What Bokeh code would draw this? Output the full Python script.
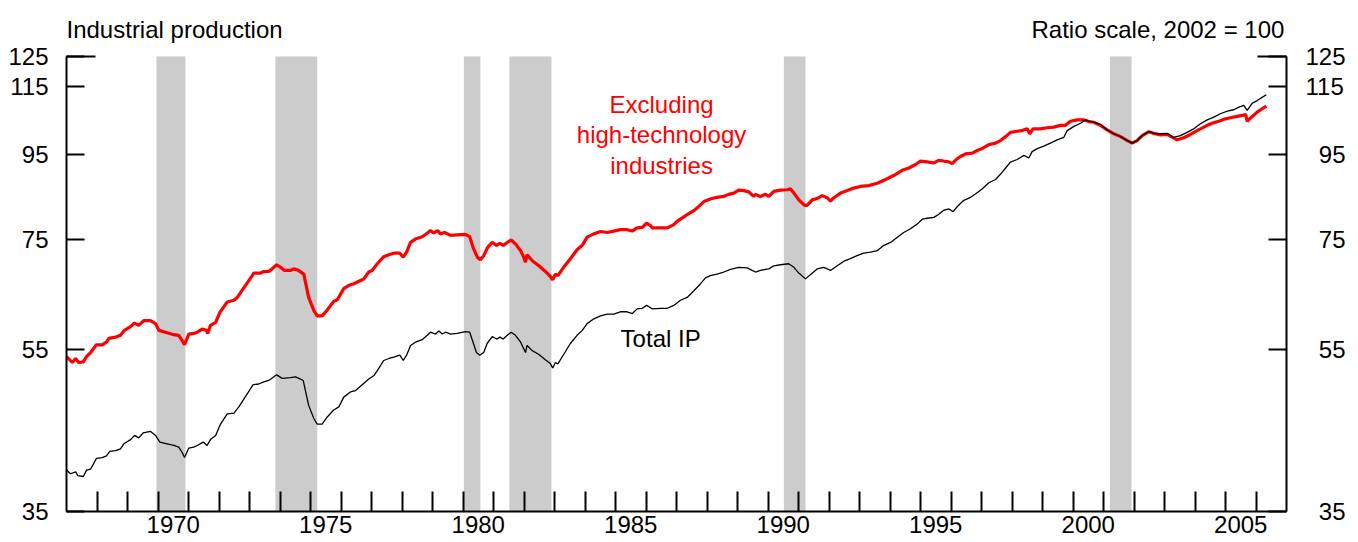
from bokeh.plotting import figure
from bokeh.models import (LogAxis, LinearAxis, FixedTicker, BasicTickFormatter,
                          CustomJSTickFormatter, BoxAnnotation, Label, Range1d)
from bokeh.embed import file_html
from bokeh.resources import INLINE

FONT = "Liberation Sans"
FS = "24px"

# ---------------- data ----------------
red_year = [
    1967.00, 1967.19, 1967.30, 1967.40, 1967.55, 1967.66, 1967.79, 1967.98, 1968.17, 1968.31,
    1968.39, 1968.61, 1968.77, 1968.90, 1969.10, 1969.23, 1969.37, 1969.53, 1969.75, 1969.92,
    1970.03, 1970.30, 1970.52, 1970.68, 1970.79, 1970.87, 1971.01, 1971.17, 1971.29, 1971.45,
    1971.59, 1971.63, 1971.72, 1971.89, 1972.03, 1972.27, 1972.49, 1972.60, 1972.87, 1973.09,
    1973.14, 1973.36, 1973.47, 1973.63, 1973.74, 1973.89, 1974.02, 1974.15, 1974.34, 1974.45,
    1974.58, 1974.78, 1974.94, 1975.11, 1975.22, 1975.38, 1975.55, 1975.76, 1975.88, 1976.09,
    1976.26, 1976.42, 1976.64, 1976.75, 1976.91, 1977.02, 1977.19, 1977.40, 1977.57, 1977.73,
    1977.93, 1978.04, 1978.15, 1978.28, 1978.44, 1978.66, 1978.80, 1978.93, 1979.04, 1979.17,
    1979.26, 1979.39, 1979.59, 1979.81, 1980.08, 1980.22, 1980.33, 1980.47, 1980.57, 1980.68,
    1980.81, 1980.96, 1981.10, 1981.21, 1981.32, 1981.45, 1981.58, 1981.72, 1981.89, 1981.97,
    1982.05, 1982.10, 1982.27, 1982.49, 1982.70, 1982.87, 1982.94, 1983.03, 1983.11, 1983.30,
    1983.52, 1983.74, 1983.91, 1984.07, 1984.29, 1984.51, 1984.73, 1984.94, 1985.16, 1985.38,
    1985.55, 1985.71, 1985.88, 1986.02, 1986.15, 1986.20, 1986.42, 1986.70, 1986.91, 1987.02,
    1987.13, 1987.35, 1987.57, 1987.73, 1987.90, 1988.11, 1988.33, 1988.55, 1988.71, 1988.88,
    1989.04, 1989.21, 1989.37, 1989.53, 1989.59, 1989.75, 1989.92, 1990.03, 1990.19, 1990.41,
    1990.63, 1990.74, 1990.85, 1991.01, 1991.20, 1991.28, 1991.45, 1991.61, 1991.78, 1991.94,
    1992.05, 1992.16, 1992.38, 1992.60, 1992.81, 1993.03, 1993.30, 1993.58, 1993.91, 1994.12,
    1994.40, 1994.62, 1994.84, 1995.00, 1995.22, 1995.44, 1995.60, 1995.76, 1995.93, 1996.04,
    1996.20, 1996.31, 1996.48, 1996.70, 1996.86, 1997.02, 1997.24, 1997.46, 1997.62, 1997.79,
    1997.95, 1998.17, 1998.33, 1998.50, 1998.58, 1998.69, 1998.93, 1999.15, 1999.37, 1999.59,
    1999.75, 1999.92, 2000.14, 2000.35, 2000.52, 2000.68, 2000.90, 2001.12, 2001.34, 2001.56,
    2001.78, 2001.94, 2002.10, 2002.27, 2002.49, 2002.65, 2002.87, 2003.09, 2003.26, 2003.42,
    2003.63, 2003.85, 2004.07, 2004.29, 2004.40, 2004.56, 2004.78, 2005.00, 2005.16, 2005.38,
    2005.55, 2005.66, 2005.71, 2005.88, 2006.04, 2006.20, 2006.34,
]
red_value = [
    54.0, 53.1, 53.7, 53.1, 53.2, 54.0, 54.6, 55.8, 55.8, 56.2,
    56.8, 57.0, 57.3, 58.1, 58.7, 59.3, 58.9, 59.7, 59.7, 59.2,
    58.1, 57.7, 57.4, 57.3, 56.5, 55.8, 57.5, 57.6, 57.8, 58.3,
    58.1, 57.6, 58.9, 59.4, 61.1, 62.9, 63.2, 63.7, 65.9, 67.7,
    68.2, 68.2, 68.5, 68.5, 69.0, 69.8, 69.3, 68.7, 68.7, 69.0,
    68.8, 68.0, 63.7, 61.4, 60.5, 60.5, 61.5, 63.0, 63.3, 65.3,
    65.9, 66.2, 66.8, 67.1, 68.4, 68.7, 70.0, 71.4, 71.8, 72.1,
    72.1, 71.3, 72.3, 74.3, 75.0, 75.5, 76.1, 76.8, 76.3, 76.8,
    76.1, 76.4, 75.8, 75.9, 76.0, 75.5, 73.3, 71.3, 70.8, 71.6,
    73.3, 74.3, 73.7, 74.1, 73.7, 74.3, 74.8, 74.0, 72.6, 71.6,
    70.3, 71.8, 70.6, 69.6, 68.5, 67.5, 66.9, 68.0, 67.7, 69.3,
    71.0, 72.8, 73.7, 75.4, 76.1, 76.6, 76.4, 76.7, 77.0, 77.0,
    76.7, 77.4, 77.5, 78.4, 77.9, 77.4, 77.4, 77.4, 78.1, 78.8,
    79.3, 80.3, 81.2, 82.2, 83.3, 83.9, 84.3, 84.5, 85.0, 85.3,
    86.0, 85.9, 85.6, 84.5, 85.0, 84.5, 85.0, 84.5, 85.7, 86.0,
    86.1, 86.3, 85.3, 83.7, 82.4, 82.4, 83.7, 84.0, 84.7, 84.2,
    83.4, 84.2, 85.3, 85.9, 86.5, 86.9, 87.1, 87.7, 88.8, 89.6,
    90.9, 91.5, 92.4, 93.3, 93.1, 92.8, 93.5, 93.3, 93.1, 92.6,
    93.9, 94.5, 95.2, 95.4, 96.1, 96.6, 97.7, 98.1, 98.8, 99.9,
    101.1, 101.4, 101.6, 102.1, 100.7, 102.1, 102.1, 102.4, 102.6, 103.1,
    103.1, 104.3, 104.7, 104.7, 104.2, 104.0, 103.1, 101.8, 100.7, 99.9,
    98.8, 98.1, 98.8, 100.2, 101.3, 100.8, 100.4, 100.5, 99.7, 99.0,
    99.6, 100.5, 101.6, 102.6, 103.1, 103.7, 104.3, 105.0, 105.3, 105.7,
    106.0, 106.3, 104.3, 105.7, 107.0, 108.0, 108.8,
]

total_year = [
    1967.00, 1967.13, 1967.30, 1967.37, 1967.55, 1967.66, 1967.79, 1967.98, 1968.17, 1968.31,
    1968.42, 1968.61, 1968.77, 1968.88, 1969.10, 1969.23, 1969.37, 1969.51, 1969.75, 1969.92,
    1970.06, 1970.30, 1970.52, 1970.68, 1970.79, 1970.87, 1971.01, 1971.17, 1971.29, 1971.48,
    1971.61, 1971.72, 1971.89, 1972.05, 1972.27, 1972.49, 1972.65, 1972.92, 1973.12, 1973.30,
    1973.47, 1973.63, 1973.89, 1974.07, 1974.34, 1974.51, 1974.67, 1974.76, 1974.94, 1975.11,
    1975.22, 1975.38, 1975.55, 1975.76, 1975.93, 1976.09, 1976.31, 1976.48, 1976.64, 1976.91,
    1977.08, 1977.19, 1977.40, 1977.57, 1977.73, 1977.93, 1978.04, 1978.15, 1978.28, 1978.44,
    1978.66, 1978.83, 1978.93, 1979.10, 1979.21, 1979.32, 1979.43, 1979.59, 1979.81, 1980.08,
    1980.22, 1980.33, 1980.44, 1980.55, 1980.68, 1980.79, 1980.96, 1981.10, 1981.21, 1981.32,
    1981.45, 1981.58, 1981.72, 1981.89, 1981.97, 1982.05, 1982.10, 1982.27, 1982.49, 1982.70,
    1982.87, 1982.94, 1983.03, 1983.11, 1983.30, 1983.52, 1983.74, 1983.91, 1984.07, 1984.29,
    1984.51, 1984.73, 1984.94, 1985.16, 1985.38, 1985.55, 1985.71, 1985.88, 1986.02, 1986.15,
    1986.20, 1986.48, 1986.70, 1986.91, 1987.13, 1987.35, 1987.57, 1987.79, 1987.95, 1988.11,
    1988.33, 1988.55, 1988.77, 1989.04, 1989.32, 1989.48, 1989.59, 1989.75, 1989.92, 1990.03,
    1990.19, 1990.41, 1990.68, 1990.85, 1991.01, 1991.23, 1991.39, 1991.61, 1991.83, 1992.05,
    1992.27, 1992.49, 1992.70, 1992.92, 1993.14, 1993.36, 1993.58, 1993.80, 1994.02, 1994.24,
    1994.45, 1994.67, 1994.89, 1995.06, 1995.22, 1995.44, 1995.60, 1995.76, 1995.93, 1996.07,
    1996.20, 1996.42, 1996.64, 1996.80, 1997.02, 1997.24, 1997.46, 1997.62, 1997.79, 1997.95,
    1998.17, 1998.39, 1998.55, 1998.66, 1998.83, 1999.04, 1999.26, 1999.48, 1999.70, 1999.81,
    2000.03, 2000.25, 2000.41, 2000.52, 2000.68, 2000.90, 2001.12, 2001.34, 2001.56, 2001.78,
    2001.94, 2002.10, 2002.27, 2002.49, 2002.65, 2002.87, 2003.09, 2003.30, 2003.52, 2003.74,
    2003.96, 2004.17, 2004.40, 2004.62, 2004.83, 2005.06, 2005.27, 2005.44, 2005.60, 2005.71,
    2005.88, 2006.04, 2006.20, 2006.34,
]
total_value = [
    39.3, 38.9, 39.1, 38.7, 38.6, 39.3, 39.4, 40.6, 40.7, 40.9,
    41.4, 41.5, 41.7, 42.3, 42.8, 43.3, 43.0, 43.6, 43.8, 43.3,
    42.5, 42.3, 42.1, 41.9, 41.3, 40.7, 41.8, 41.9, 42.1, 42.5,
    42.1, 42.8, 43.3, 44.7, 46.0, 46.1, 46.9, 48.6, 49.9, 50.0,
    50.3, 50.5, 51.3, 50.8, 50.9, 51.0, 50.7, 50.5, 47.1, 45.4,
    44.7, 44.7, 45.6, 46.5, 46.9, 48.2, 48.9, 49.1, 49.7, 50.7,
    51.2, 51.9, 53.4, 53.7, 53.9, 54.2, 53.4, 54.2, 55.7, 56.2,
    56.6, 57.3, 57.8, 57.5, 58.0, 57.5, 57.8, 57.5, 57.6, 57.9,
    57.8, 56.2, 54.6, 54.2, 54.6, 56.0, 57.1, 56.7, 57.0, 56.7,
    57.3, 57.8, 57.3, 56.2, 55.4, 54.6, 55.7, 54.9, 54.3, 53.5,
    52.9, 52.3, 53.1, 52.9, 54.3, 56.0, 57.3, 58.1, 59.2, 60.0,
    60.5, 60.8, 60.8, 61.2, 61.2, 60.9, 61.7, 61.8, 62.3, 61.9,
    61.7, 61.8, 61.8, 62.3, 63.2, 63.7, 64.9, 66.2, 67.3, 67.7,
    68.0, 68.4, 68.9, 69.3, 69.2, 68.7, 68.4, 68.7, 68.9, 69.0,
    69.6, 69.8, 70.0, 69.3, 68.2, 67.1, 67.9, 69.0, 69.3, 68.7,
    69.6, 70.5, 71.0, 71.6, 72.1, 72.3, 72.6, 73.7, 74.3, 75.4,
    76.4, 77.2, 78.2, 79.3, 79.5, 79.7, 80.4, 81.3, 81.6, 81.0,
    82.1, 83.6, 84.3, 85.1, 86.3, 87.8, 88.6, 89.9, 91.5, 93.0,
    93.7, 94.8, 94.1, 95.8, 96.6, 97.3, 98.1, 99.0, 99.7, 101.6,
    102.8, 103.7, 104.7, 104.3, 104.0, 103.4, 101.8, 100.7, 99.9, 98.8,
    98.1, 98.8, 100.2, 101.3, 100.8, 100.7, 100.8, 99.7, 100.2, 101.1,
    102.1, 103.5, 104.7, 105.5, 106.5, 107.3, 107.7, 108.5, 109.0, 107.5,
    109.7, 110.5, 111.5, 112.3,
]

recession_start = [1969.95, 1973.85, 1980.03, 1981.52, 1990.52, 2001.21]
recession_end = [1970.90, 1975.22, 1980.57, 1982.90, 1991.23, 2001.92]

y_ticks = [35, 55, 75, 95, 115, 125]
x_label_years = [1970, 1975, 1980, 1985, 1990, 1995, 2000, 2005]
x_boundary_years = list(range(1968, 2007))

assert len(red_year) == len(red_value)
assert len(total_year) == len(total_value)

Y_MIN, Y_MAX = 35, 125          # axis extent
Y_TOP = 146.2                   # frame top, leaves room for the header texts

# ---------------- figure ----------------
p = figure(width=1350, height=542,
           x_range=Range1d(1967, 2007), y_range=Range1d(Y_MIN, Y_TOP),
           y_axis_type="log", x_axis_location=None, y_axis_location=None,
           output_backend="svg", toolbar_location=None,
           min_border_left=66, min_border_right=64,
           min_border_top=0, min_border_bottom=31)
p.title.visible = False
p.outline_line_color = None
p.background_fill_color = "white"
p.border_fill_color = "white"
for g in p.grid:
    g.visible = False

# recession shading
for s, e in zip(recession_start, recession_end):
    p.add_layout(BoxAnnotation(left=s, right=e, bottom=Y_MIN, top=Y_MAX,
                               fill_color="#cccccc", fill_alpha=1.0,
                               line_color=None, level="underlay"))

# series
p.line(red_year, red_value, line_color="#ff0000", line_width=3.2)
p.line(total_year, total_value, line_color="black", line_width=1.3)


def style_y(ax):
    ax.bounds = (Y_MIN, Y_MAX)
    ax.ticker = FixedTicker(ticks=y_ticks, minor_ticks=[Y_MAX])
    ax.axis_line_width = 2
    ax.axis_line_color = "black"
    ax.major_tick_in = 18
    ax.major_tick_out = 0
    ax.major_tick_line_width = 2
    ax.minor_tick_in = 29
    ax.minor_tick_out = 0
    ax.minor_tick_line_width = 2
    ax.major_label_text_font = FONT
    ax.major_label_text_font_size = FS
    ax.major_label_text_color = "black"


yl = LogAxis()
style_y(yl)
yl.formatter = BasicTickFormatter()
yl.major_label_standoff = 18
p.add_layout(yl, "left")

yr = LogAxis()
style_y(yr)
# right-align the labels on the right axis by padding short numbers with a figure space
yr.formatter = CustomJSTickFormatter(
    code="const s = String(Math.round(tick)); return s.length < 3 ? '\\u2007' + s : s;")
yr.major_label_standoff = 19
p.add_layout(yr, "right")

xa = LinearAxis(
    ticker=FixedTicker(ticks=[y + 0.5 for y in x_label_years], minor_ticks=x_boundary_years),
    formatter=CustomJSTickFormatter(code="return Math.floor(tick).toString();"))
xa.axis_line_width = 2
xa.axis_line_color = "black"
xa.major_tick_in = 0
xa.major_tick_out = 0
xa.minor_tick_in = 20
xa.minor_tick_out = 0
xa.minor_tick_line_width = 2
xa.minor_tick_line_color = "black"
xa.major_label_text_font = FONT
xa.major_label_text_font_size = FS
xa.major_label_text_color = "black"
xa.major_label_standoff = 4
p.add_layout(xa, "below")


# texts
def lab(x, y, text, align, color="black", baseline="middle"):
    p.add_layout(Label(x=x, y=y, text=text, text_align=align, text_baseline=baseline,
                       text_color=color, text_font=FONT, text_font_size=FS))


lab(1967.0, 134.8, "Industrial production", "left", baseline="alphabetic")
lab(2006.93, 134.8, "Ratio scale, 2002 = 100", "right", baseline="alphabetic")
lab(1986.51, 109.3, "Excluding", "center", color="#ff0000")
lab(1986.51, 100.5, "high-technology", "center", color="#ff0000")
lab(1986.51, 92.15, "industries", "center", color="#ff0000")
lab(1986.48, 56.8, "Total IP", "center")

open("out.html", "w").write(file_html(p, INLINE))
